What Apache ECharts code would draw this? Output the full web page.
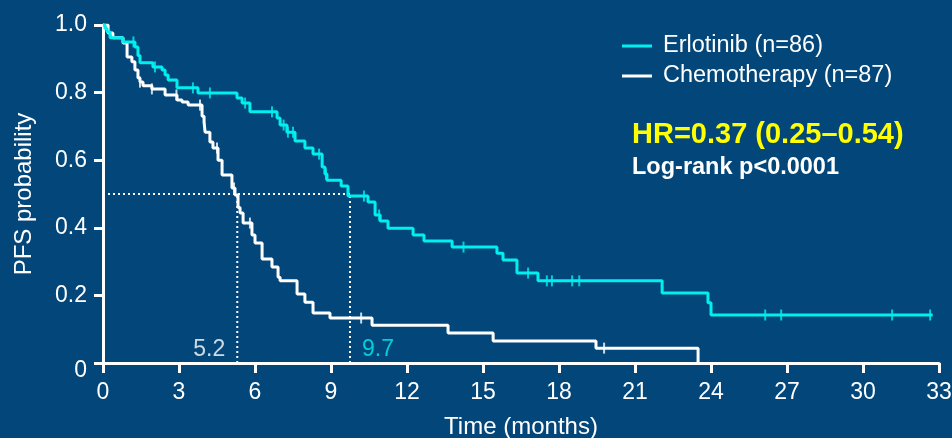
<!DOCTYPE html>
<html>
<head>
<meta charset="utf-8">
<script src="https://cdn.jsdelivr.net/npm/echarts@6/dist/echarts.min.js"></script>
<style>
  html, body { margin: 0; padding: 0; background: #02467a; }
  #chart { width: 952px; height: 438px; }
</style>
</head>
<body>
<div id="chart"></div>
<script>
// Kaplan-Meier steps (time in months, PFS probability after the step)
const erlTime = [0, 0.08, 0.16, 0.28, 0.79, 1.26, 1.38, 1.46, 1.97, 2.33, 2.45, 2.57, 2.92, 3.75, 5.29, 5.49, 5.80, 6.87, 6.99, 7.26, 7.58, 7.97, 8.29, 8.65, 8.76, 8.84, 9.40, 9.67, 10.46, 10.74, 10.94, 11.25, 12.24, 12.67, 13.78, 15.55, 15.79, 16.34, 17.17, 22.07, 23.88, 24.0, 32.75]
const erlSurv = [1, 0.99, 0.98, 0.962, 0.95, 0.935, 0.91, 0.888, 0.876, 0.867, 0.852, 0.837, 0.814, 0.799, 0.784, 0.769, 0.743, 0.725, 0.704, 0.683, 0.657, 0.636, 0.618, 0.58, 0.559, 0.541, 0.524, 0.494, 0.476, 0.438, 0.42, 0.399, 0.379, 0.361, 0.343, 0.325, 0.305, 0.266, 0.243, 0.207, 0.178, 0.142, 0.142]

const chemoTime = [0, 0.2, 0.39, 0.79, 0.95, 1.14, 1.26, 1.38, 1.46, 1.58, 1.93, 2.45, 2.92, 3.12, 3.36, 3.91, 3.99, 4.03, 4.22, 4.34, 4.54, 4.70, 5.09, 5.21, 5.33, 5.41, 5.53, 5.88, 6.0, 6.28, 6.67, 6.91, 6.99, 7.66, 7.97, 8.29, 8.96, 10.62, 13.62, 15.40, 19.46, 23.49]
const chemoSurv = [1, 0.976, 0.962, 0.947, 0.905, 0.891, 0.867, 0.843, 0.831, 0.82, 0.811, 0.793, 0.778, 0.772, 0.763, 0.73, 0.713, 0.683, 0.654, 0.636, 0.60, 0.556, 0.518, 0.497, 0.46, 0.444, 0.414, 0.379, 0.355, 0.308, 0.284, 0.254, 0.243, 0.204, 0.18, 0.148, 0.133, 0.112, 0.089, 0.065, 0.044, 0]

// censored observations
const erlCensTime = [1.2, 2.05, 3.55, 4.22, 5.61, 6.67, 7.13, 7.3, 7.5, 8.53, 8.8, 10.3, 10.9, 14.23, 16.78, 17.52, 17.72, 18.52, 18.8, 26.14, 26.77, 31.15, 32.65]
const erlCensSurv = [0.95, 0.876, 0.814, 0.799, 0.769, 0.743, 0.704, 0.683, 0.683, 0.618, 0.559, 0.494, 0.438, 0.343, 0.266, 0.243, 0.243, 0.243, 0.243, 0.142, 0.142, 0.142, 0.142]
const chemoCensTime = [1.46, 1.93, 2.9, 3.83, 4.5, 5.17, 5.8, 10.19, 19.78]
const chemoCensSurv = [0.831, 0.811, 0.793, 0.763, 0.636, 0.518, 0.414, 0.133, 0.044]

// medians (drawn position, printed label)
const medianX = [5.3, 9.75]
const medianLabels = ['5.2', '9.7']
const medianLevel = 0.5

const xTicks = [0, 3, 6, 9, 12, 15, 18, 21, 24, 27, 30, 33]
const yTicks = [0, 0.2, 0.4, 0.6, 0.8, 1.0]

const seriesNames = ['Erlotinib (n=86)', 'Chemotherapy (n=87)']

const CYAN = '#00f0f0'
const WHITE = '#ffffff'
const FONT = 'Liberation Sans, Arial, Helvetica, sans-serif'

const zip = (a, b) => a.map((v, i) => [v, b[i]])

const chart = echarts.init(document.getElementById('chart'))

const dotted = { color: WHITE, width: 2, type: [2, 3] }

const option = {
  animation: false,
  backgroundColor: '#02467a',
  textStyle: { fontFamily: FONT },
  grid: { left: 103, right: 13, top: 25, bottom: 75, outerBoundsMode: 'none' },
  legend: {
    orient: 'vertical',
    left: 617,
    top: 29,
    itemWidth: 30,
    itemHeight: 3,
    itemGap: 6,
    icon: 'rect',
    data: seriesNames,
    textStyle: { color: WHITE, fontSize: 23.5, fontFamily: FONT, padding: [0, 0, 0, 6] }
  },
  xAxis: {
    type: 'value',
    min: xTicks[0],
    max: xTicks[xTicks.length - 1],
    interval: 3,
    name: 'Time (months)',
    nameLocation: 'middle',
    nameGap: 52,
    nameTextStyle: { color: WHITE, fontSize: 24, fontFamily: FONT },
    axisLine: { lineStyle: { color: WHITE, width: 3 } },
    axisTick: { length: 10, lineStyle: { color: WHITE, width: 3 } },
    axisLabel: { color: WHITE, fontSize: 23, margin: 18, fontFamily: FONT },
    splitLine: { show: false }
  },
  yAxis: {
    type: 'value',
    min: yTicks[0],
    max: yTicks[yTicks.length - 1],
    interval: 0.2,
    name: 'PFS probability',
    nameLocation: 'middle',
    nameGap: 67,
    nameTextStyle: { color: WHITE, fontSize: 24, fontFamily: FONT },
    axisLine: { lineStyle: { color: WHITE, width: 3 } },
    axisTick: { length: 9, lineStyle: { color: WHITE, width: 3 } },
    axisLabel: {
      color: WHITE, fontSize: 23, margin: 16, fontFamily: FONT,
      formatter: v => (v === 0 ? '{zero|0}' : v.toFixed(1)),
      rich: { zero: { fontSize: 23, fontFamily: FONT, color: WHITE, padding: [16, 0, 0, 0] } }
    },
    splitLine: { show: false }
  },
  series: [
    {
      name: seriesNames[0],
      type: 'line',
      step: 'end',
      showSymbol: false,
      color: CYAN,
      lineStyle: { color: CYAN, width: 3 },
      data: zip(erlTime, erlSurv),
      z: 4
    },
    {
      name: seriesNames[1],
      type: 'line',
      step: 'end',
      showSymbol: false,
      color: WHITE,
      lineStyle: { color: WHITE, width: 3 },
      data: zip(chemoTime, chemoSurv),
      z: 3
    },
    {
      name: 'erl-censored',
      type: 'scatter',
      symbol: 'rect',
      symbolSize: [2, 11],
      itemStyle: { color: CYAN },
      data: zip(erlCensTime, erlCensSurv),
      z: 5
    },
    {
      name: 'chemo-censored',
      type: 'scatter',
      symbol: 'rect',
      symbolSize: [2, 11],
      itemStyle: { color: WHITE },
      data: zip(chemoCensTime, chemoCensSurv),
      z: 5
    },
    // median guide lines
    {
      type: 'line',
      showSymbol: false,
      lineStyle: dotted,
      data: [[0, medianLevel], [medianX[1], medianLevel]],
      z: 2
    },
    {
      type: 'line',
      showSymbol: false,
      lineStyle: dotted,
      data: [[medianX[0], 0], [medianX[0], medianLevel]],
      z: 2
    },
    {
      type: 'line',
      showSymbol: false,
      lineStyle: dotted,
      data: [[medianX[1], 0], [medianX[1], medianLevel]],
      z: 2
    },
    {
      type: 'scatter',
      symbolSize: 0,
      silent: true,
      data: medianX.map((x, i) => ({
        value: [x, 0],
        label: {
          show: true,
          formatter: medianLabels[i],
          position: i === 0 ? 'left' : 'right',
          distance: 12,
          offset: [0, -13],
          color: i === 0 ? WHITE : CYAN,
          fontSize: 23,
          fontFamily: FONT
        }
      }))
    }
  ],
  graphic: [
    {
      type: 'text',
      left: 632,
      top: 120,
      style: {
        text: 'HR=0.37 (0.25\u20130.54)',
        fill: '#ffff00',
        font: 'bold 29px ' + FONT
      }
    },
    {
      type: 'text',
      left: 632,
      top: 156,
      style: {
        text: 'Log-rank p<0.0001',
        fill: WHITE,
        font: 'bold 23.5px ' + FONT
      }
    }
  ]
}

chart.setOption(option)
</script>
</body>
</html>
